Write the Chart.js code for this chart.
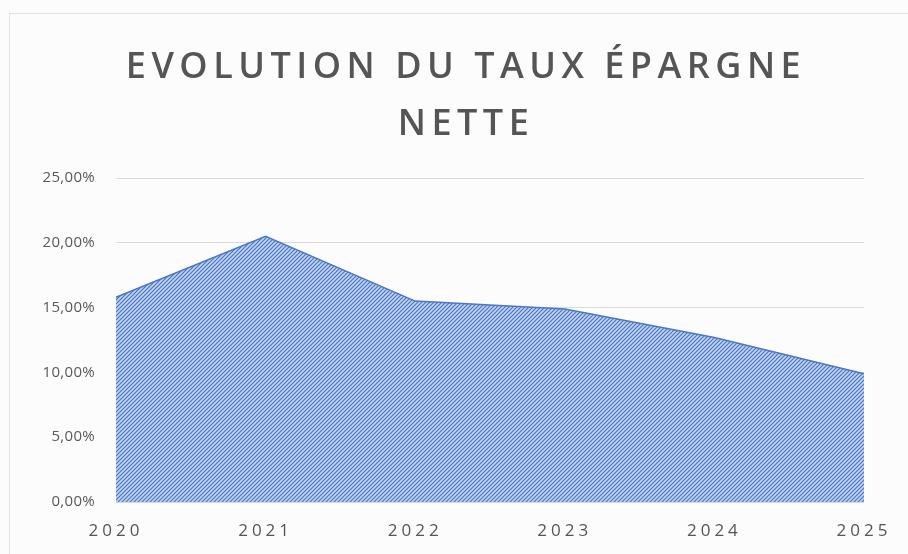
<!DOCTYPE html>
<html><head><meta charset="utf-8">
<script src="https://cdn.jsdelivr.net/npm/chart.js@4/dist/chart.umd.min.js"></script>
<style>
html,body{margin:0;padding:0;background:#fcfcfc;overflow:hidden;}
#wrap{position:relative;width:908px;height:554px;}
#frame{position:absolute;left:9px;top:13px;width:920px;height:560px;border:1px solid #e2e2e2;pointer-events:none;}
canvas{display:block}
</style></head><body>
<div id="wrap"><canvas id="c" width="908" height="554"></canvas><div id="frame"></div></div>
<script>
// ---- data ----
const categories = ['2020', '2021', '2022', '2023', '2024', '2025'];
const savingsRate = [15.8, 20.5, 15.5, 14.9, 12.7, 9.9];
const yTickValues = [0, 5, 10, 15, 20, 25];
const titleLines = ['EVOLUTION DU TAUX ÉPARGNE', 'NETTE'];

const canvas = document.getElementById('c');
const ctx = canvas.getContext('2d');

function makeHatch() {
  const t = document.createElement('canvas');
  t.width = 4; t.height = 4;
  const g = t.getContext('2d');
  g.fillStyle = '#bcd3f5';
  g.fillRect(0, 0, 4, 4);
  g.strokeStyle = '#4d71b8';
  g.lineWidth = 1.1;
  g.beginPath();
  g.moveTo(0, 4); g.lineTo(4, 0);
  g.moveTo(-1, 1); g.lineTo(1, -1);
  g.moveTo(3, 5); g.lineTo(5, 3);
  g.stroke();
  return ctx.createPattern(t, 'repeat');
}

const spacingPlugin = {
  id: 'letterSpacing',
  beforeLayout(chart) {
    const patch = (box, sp) => {
      if (!box || box._spPatched) return;
      const orig = box.draw;
      box.draw = function (a) {
        const c = this.ctx || chart.ctx;
        const prev = c.letterSpacing;
        c.letterSpacing = sp;
        orig.call(this, a);
        c.letterSpacing = prev || '0px';
      };
      box._spPatched = true;
    };
    patch(chart.titleBlock, '5.5px');
    patch(chart.scales.x, '4px');
    patch(chart.scales.y, '0.3px');
  }
};

new Chart(ctx, {
  type: 'line',
  data: {
    labels: categories,
    datasets: [{
      data: savingsRate,
      fill: 'origin',
      backgroundColor: makeHatch(),
      borderColor: '#4d76c2',
      borderWidth: 1.5,
      pointRadius: 0,
      tension: 0
    }]
  },
  options: {
    responsive: false,
    animation: false,
    layout: { padding: { left: 24, right: 0, top: 0, bottom: 0 } },
    plugins: {
      legend: { display: false },
      tooltip: { enabled: false },
      title: {
        display: true,
        text: titleLines,
        color: '#555555',
        font: { family: 'Open Sans', size: 36, weight: '600', lineHeight: 1.6 },
        padding: { top: 38.6, bottom: 24.2 }
      }
    },
    scales: {
      x: {
        offset: false,
        grid: { display: false, drawTicks: false },
        border: { display: false },
        ticks: {
          color: '#555555',
          font: { family: 'Open Sans', size: 17 },
          padding: 19,
          maxRotation: 0,
          autoSkip: false
        },
        afterFit(s) { s.height = 52; }
      },
      y: {
        min: 0,
        max: 25,
        afterBuildTicks(s) { s.ticks = yTickValues.map(v => ({ value: v })); },
        grid: { color: '#dadada', lineWidth: 1, drawTicks: false },
        border: { display: false },
        ticks: {
          color: '#595959',
          font: { family: 'Open Sans', size: 15 },
          padding: 21,
          callback: v => v.toFixed(2).replace('.', ',') + '%'
        },
        afterFit(s) { s.width = 92; }
      },
      yRight: {
        position: 'right',
        min: 0,
        max: 25,
        grid: { display: false, drawTicks: false },
        border: { display: false },
        ticks: { display: false },
        afterFit(s) { s.width = 44; }
      }
    }
  },
  plugins: [spacingPlugin]
});
</script>
</body></html>
